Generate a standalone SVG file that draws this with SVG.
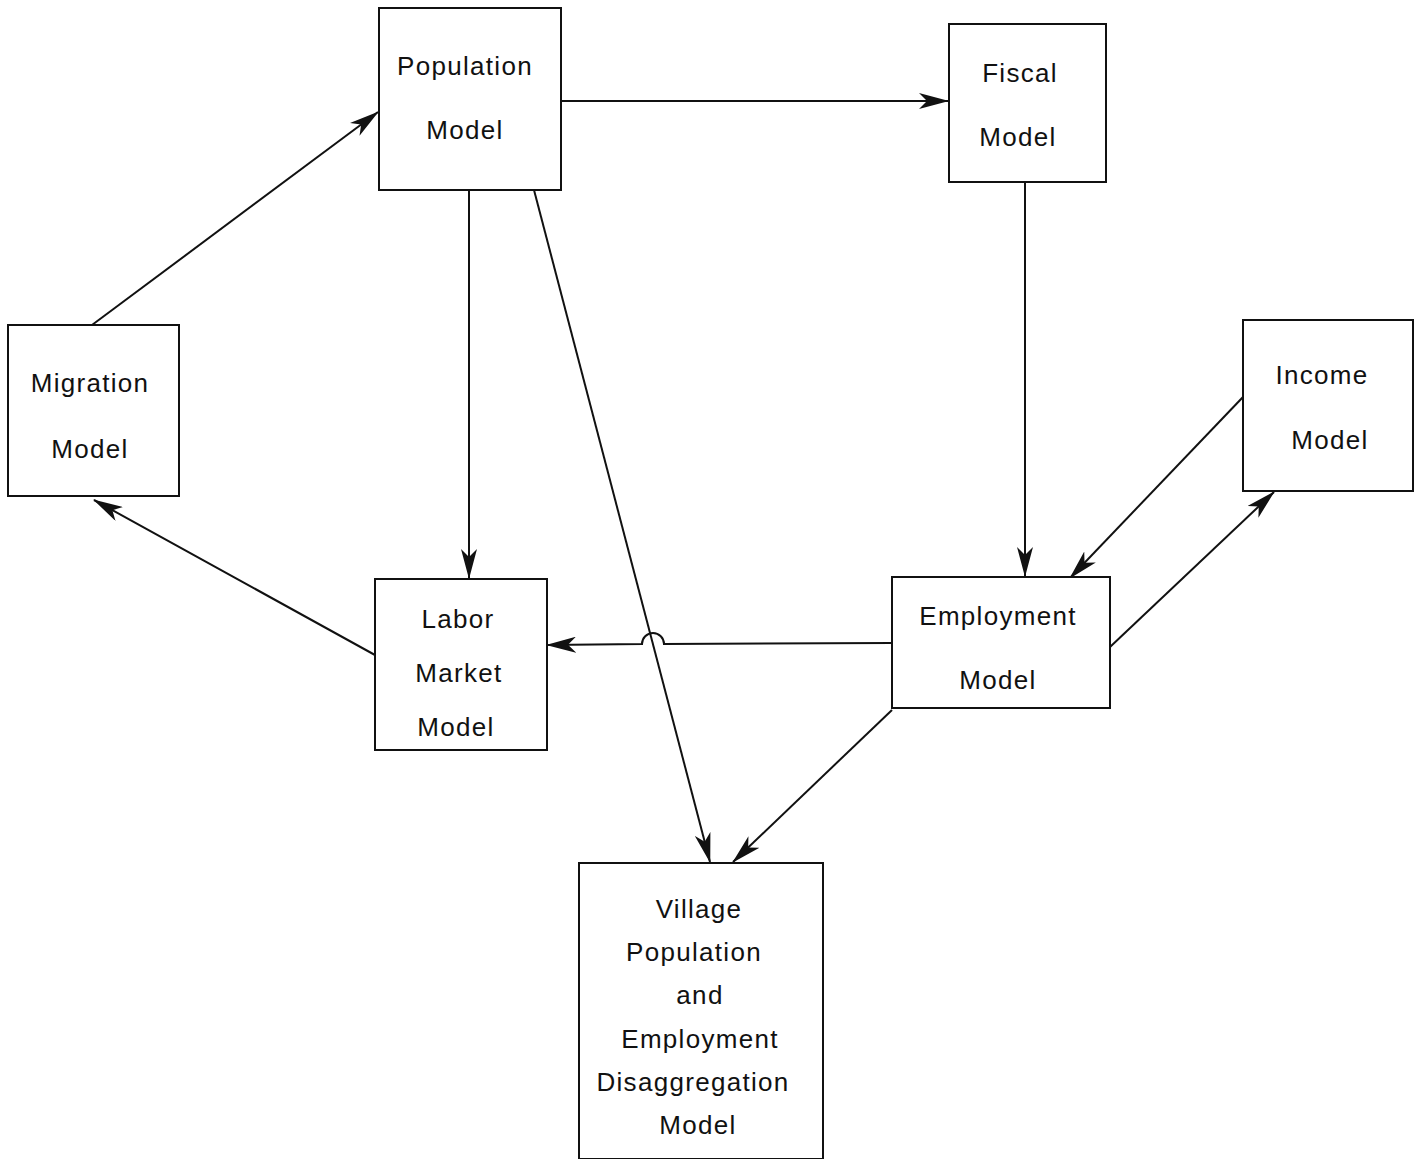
<svg xmlns="http://www.w3.org/2000/svg" width="1423" height="1159" viewBox="0 0 1423 1159">
<style>
.box{fill:#fff;stroke:#111;stroke-width:2}
.t{font-family:"Liberation Sans",Arial,sans-serif;font-size:26px;fill:#111;text-anchor:middle;letter-spacing:1.3px}
.c{fill:none;stroke:#111;stroke-width:2}
</style>
<defs>
<marker id="ah" viewBox="0 0 30 16" refX="29" refY="8" markerWidth="30" markerHeight="16" markerUnits="userSpaceOnUse" orient="auto">
<path d="M0,0 L30,8 L0,16 L8,8 z" fill="#111"/>
</marker>
</defs>
<rect width="1423" height="1159" fill="#fff"/>
<g id="connectors">
<line class="c" x1="561" y1="101" x2="948" y2="101" marker-end="url(#ah)"/>
<line class="c" x1="92" y1="325" x2="378" y2="112" marker-end="url(#ah)"/>
<line class="c" x1="375" y1="655" x2="94" y2="500" marker-end="url(#ah)"/>
<line class="c" x1="469" y1="190" x2="469" y2="578" marker-end="url(#ah)"/>
<line class="c" x1="534" y1="190" x2="710" y2="862" marker-end="url(#ah)"/>
<line class="c" x1="1025" y1="182" x2="1025" y2="576" marker-end="url(#ah)"/>
<line class="c" x1="1243" y1="397" x2="1070" y2="578" marker-end="url(#ah)"/>
<line class="c" x1="1110" y1="647" x2="1274" y2="492" marker-end="url(#ah)"/>
<path class="c" d="M892,643 L664,644 A11,11 0 0 0 642,644 L547,645" marker-end="url(#ah)"/>
<line class="c" x1="892" y1="710" x2="733" y2="862" marker-end="url(#ah)"/>
</g>
<g id="population">
<rect class="box" x="379" y="8" width="182" height="182"/>
<text class="t" x="465" y="75">Population</text>
<text class="t" x="465" y="139">Model</text>
</g>
<g id="fiscal">
<rect class="box" x="949" y="24" width="157" height="158"/>
<text class="t" x="1020" y="82">Fiscal</text>
<text class="t" x="1018" y="146">Model</text>
</g>
<g id="migration">
<rect class="box" x="8" y="325" width="171" height="171"/>
<text class="t" x="90" y="392">Migration</text>
<text class="t" x="90" y="458">Model</text>
</g>
<g id="income">
<rect class="box" x="1243" y="320" width="170" height="171"/>
<text class="t" x="1322" y="384">Income</text>
<text class="t" x="1330" y="449">Model</text>
</g>
<g id="labor">
<rect class="box" x="375" y="579" width="172" height="171"/>
<text class="t" x="458" y="628">Labor</text>
<text class="t" x="459" y="682">Market</text>
<text class="t" x="456" y="736">Model</text>
</g>
<g id="employment">
<rect class="box" x="892" y="577" width="218" height="131"/>
<text class="t" x="998" y="625">Employment</text>
<text class="t" x="998" y="689">Model</text>
</g>
<g id="village">
<rect class="box" x="579" y="863" width="244" height="296"/>
<text class="t" x="699" y="918">Village</text>
<text class="t" x="694" y="961">Population</text>
<text class="t" x="700" y="1004">and</text>
<text class="t" x="700" y="1048">Employment</text>
<text class="t" x="693" y="1091">Disaggregation</text>
<text class="t" x="698" y="1134">Model</text>
</g>
</svg>
